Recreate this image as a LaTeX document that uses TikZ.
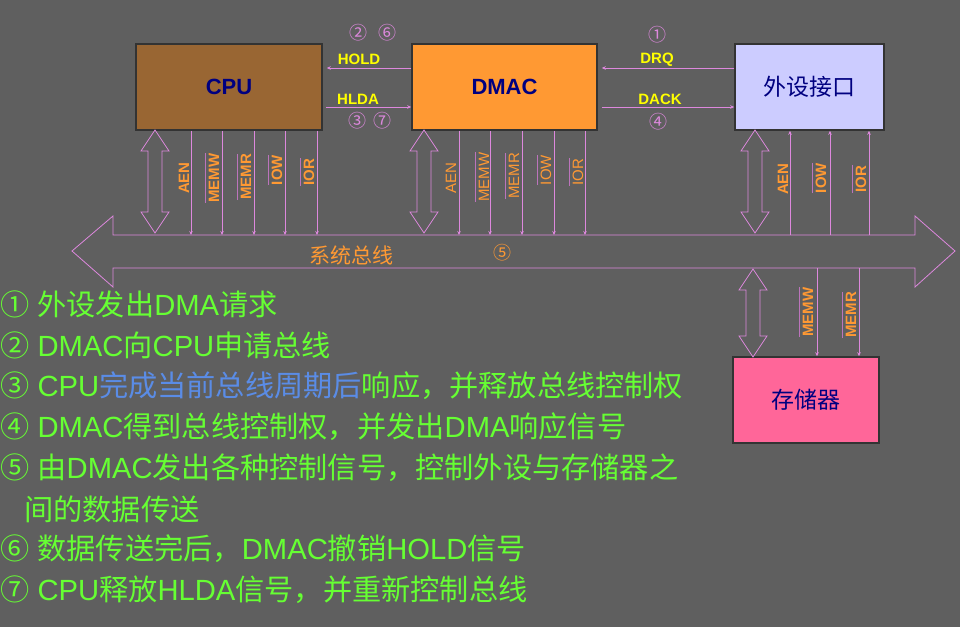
\documentclass[tikz,border=0pt]{standalone}
\usepackage{fontspec}
\setmainfont{Liberation Sans}
\newfontfamily\cjk{Noto Sans CJK SC}
\newfontfamily\lcjk{Noto Sans CJK SC}
\newfontfamily\llat{Liberation Sans}
\usetikzlibrary{arrows.meta}
\definecolor{bg}{RGB}{95,95,95}
\definecolor{vio}{RGB}{221,136,221}
\definecolor{cpubrown}{RGB}{153,102,51}
\definecolor{dmacorange}{RGB}{255,153,51}
\definecolor{ifblue}{RGB}{204,204,255}
\definecolor{mempink}{RGB}{255,102,153}
\definecolor{navy}{RGB}{0,0,128}
\definecolor{sigorange}{RGB}{255,153,51}
\definecolor{lgreen}{RGB}{102,255,51}
\definecolor{lblue}{RGB}{90,140,230}
\definecolor{ylw}{RGB}{255,255,0}
\newcommand\Z[1]{{\lcjk #1}}
\newcommand\vdarr[3]{%
  \draw[dbl] (#1,#2) -- ({#1+14},{#2+21}) -- ({#1+7},{#2+21}) -- ({#1+7},{#3-21}) -- ({#1+14},{#3-21}) -- (#1,#3) -- ({#1-14},{#3-21}) -- ({#1-7},{#3-21}) -- ({#1-7},{#2+21}) -- ({#1-14},{#2+21}) -- cycle;}
\tikzset{
  box/.style={draw=black!80, line width=1.5pt, inner sep=0pt},
  dbl/.style={draw=vio, line width=0.8pt, fill=bg},
  sig/.style={draw=vio, line width=0.8pt, -{Stealth[length=4pt,width=3.5pt]}},
  lab/.style={rotate=90, text=sigorange, font=\fontsize{15}{18}\selectfont\bfseries, inner xsep=0pt, inner ysep=3pt},
  labr/.style={lab, font=\fontsize{15}{18}\selectfont},
  ovb/.style={draw=vio!85!black, line width=0.8pt},
  toplab/.style={text=ylw, font=\fontsize{15}{18}\selectfont\bfseries, inner sep=0pt},
  circ/.style={text=vio, font=\cjk\fontsize{18}{20}\selectfont, inner sep=0pt},
  item/.style={anchor=west, text=lgreen, font=\llat\fontsize{29.2}{34}\selectfont, inner sep=0pt},
}
\begin{document}
\begin{tikzpicture}[x=1pt,y=-1pt]
\fill[bg] (0,0) rectangle (960,627);
\useasboundingbox (0,0) rectangle (960,627);

% boxes
\node[box, fill=cpubrown, minimum width=186pt, minimum height=86pt, text=navy, font=\fontsize{22}{26}\selectfont\bfseries] (cpu) at (229,87) {CPU};
\node[box, fill=dmacorange, minimum width=185pt, minimum height=86pt, text=navy, font=\fontsize{22}{26}\selectfont\bfseries] (dmac) at (504.5,87) {DMAC};
\node[box, fill=ifblue, minimum width=149pt, minimum height=86pt, text=navy, font=\cjk\fontsize{23}{26}\selectfont] (ifc) at (809.5,87) {外设接口};
\node[box, fill=mempink, minimum width=146pt, minimum height=86pt, text=navy, font=\cjk\fontsize{23}{26}\selectfont] (mem) at (806,400) {存储器};

% control arrows between boxes
\draw[sig, shorten >=4pt] ([yshift=19pt]dmac.west) -- ([yshift=19pt]cpu.east);
\draw[sig, shorten <=3pt] ([yshift=-20pt]cpu.east) -- ([yshift=-20pt]dmac.west);
\draw[sig, shorten >=4pt] ([yshift=19pt]ifc.west) -- ([yshift=19pt]dmac.east);
\draw[sig, shorten <=4pt] ([yshift=-20pt]dmac.east) -- ([yshift=-20pt]ifc.west);

\node[toplab] (hold) at (359,59) {HOLD};
\node[toplab] (hlda) at (358,99) {HLDA};
\node[toplab] (drq) at (657,60) {DRQ};
\node[toplab] (dack) at (660,99) {DACK};
\node[circ] (c2) at (358,33) {②};
\node[circ] (c6) at (387,33) {⑥};
\node[circ] (c3) at (357,121) {③};
\node[circ] (c7) at (382,121) {⑦};
\node[circ] (c1) at (657,35) {①};
\node[circ] (c4) at (658,122) {④};

% system bus
\coordinate (bustop) at (0,235);
\coordinate (busbot) at (0,268);
\draw[dbl] (72,251) -- (113,216) -- (113,235) -- (915,235) -- (915,216) -- (955,251) -- (915,287) -- (915,268) -- (113,268) -- (113,287) -- cycle;
\node[text=sigorange, font=\cjk\fontsize{21}{24}\selectfont, inner sep=0pt] (busname) at (351,255) {系统总线};
\node[circ, text=sigorange] (c5) at (502,253) {⑤};

% vertical double arrows
\vdarr{155}{130}{233}
\vdarr{424}{130}{233}
\vdarr{755}{130}{233}
\vdarr{753}{269}{357}

% CPU signals
\foreach \x in {191,222,254,285,317} \draw[sig] (cpu.south -| \x,0) -- (bustop -| \x,0);
\node[lab] (cpuaen) at (184,178) {AEN};
\node[lab] (cpumemw) at (214,178) {MEMW};
\node[lab] (cpumemr) at (246,177) {MEMR};
\node[lab] (cpuiow) at (277,170) {IOW};
\node[lab] (cpuior) at (309,172) {IOR};
\foreach \n in {cpumemw,cpumemr,cpuiow,cpuior} \draw[ovb] (\n.north west) -- (\n.north east);

% DMAC signals
\foreach \x in {459,490,522,554,585} \draw[sig] (dmac.south -| \x,0) -- (bustop -| \x,0);
\node[labr] (daen) at (451,178) {AEN};
\node[labr] (dmemw) at (484,177) {MEMW};
\node[labr] (dmemr) at (514,176) {MEMR};
\node[labr] (diow) at (546,170) {IOW};
\node[labr] (dior) at (578,172) {IOR};
\foreach \n in {dmemw,dmemr,diow,dior} \draw[ovb] (\n.north west) -- (\n.north east);

% interface signals
\foreach \x in {790,830,869} \draw[sig] (bustop -| \x,0) -- (ifc.south -| \x,0);
\node[lab] (iaen) at (783,179) {AEN};
\node[lab] (iiow) at (821,178) {IOW};
\node[lab] (iior) at (861,179) {IOR};
\foreach \n in {iiow,iior} \draw[ovb] (\n.north west) -- (\n.north east);

% memory signals
\foreach \x in {817,859} \draw[sig] (busbot -| \x,0) -- (mem.north -| \x,0);
\node[lab] (mmemw) at (808,312) {MEMW};
\node[lab] (mmemr) at (851,315) {MEMR};
\foreach \n in {mmemw,mmemr} \draw[ovb] (\n.north west) -- (\n.north east);

% step list
\node[item] (s1) at (0,304) {\Z{①} \Z{外设发出}DMA\Z{请求}};
\node[item] (s2) at (0,345) {\Z{②} DMAC\Z{向}CPU\Z{申请总线}};
\node[item] (s3) at (0,386) {\Z{③} CPU\textcolor{lblue}{\Z{完成当前总线周期后}}\Z{响应，并释放总线控制权}};
\node[item] (s4) at (0,427) {\Z{④} DMAC\Z{得到总线控制权，并发出}DMA\Z{响应信号}};
\node[item] (s5) at (0,468) {\Z{⑤} \Z{由}DMAC\Z{发出各种控制信号，控制外设与存储器之}};
\node[item] (s5b) at (24,509) {\Z{间的数据传送}};
\node[item] (s6) at (0,549) {\Z{⑥} \Z{数据传送完后，}DMAC\Z{撤销}HOLD\Z{信号}};
\node[item] (s7) at (0,590) {\Z{⑦} CPU\Z{释放}HLDA\Z{信号，并重新控制总线}};
\end{tikzpicture}
\end{document}
